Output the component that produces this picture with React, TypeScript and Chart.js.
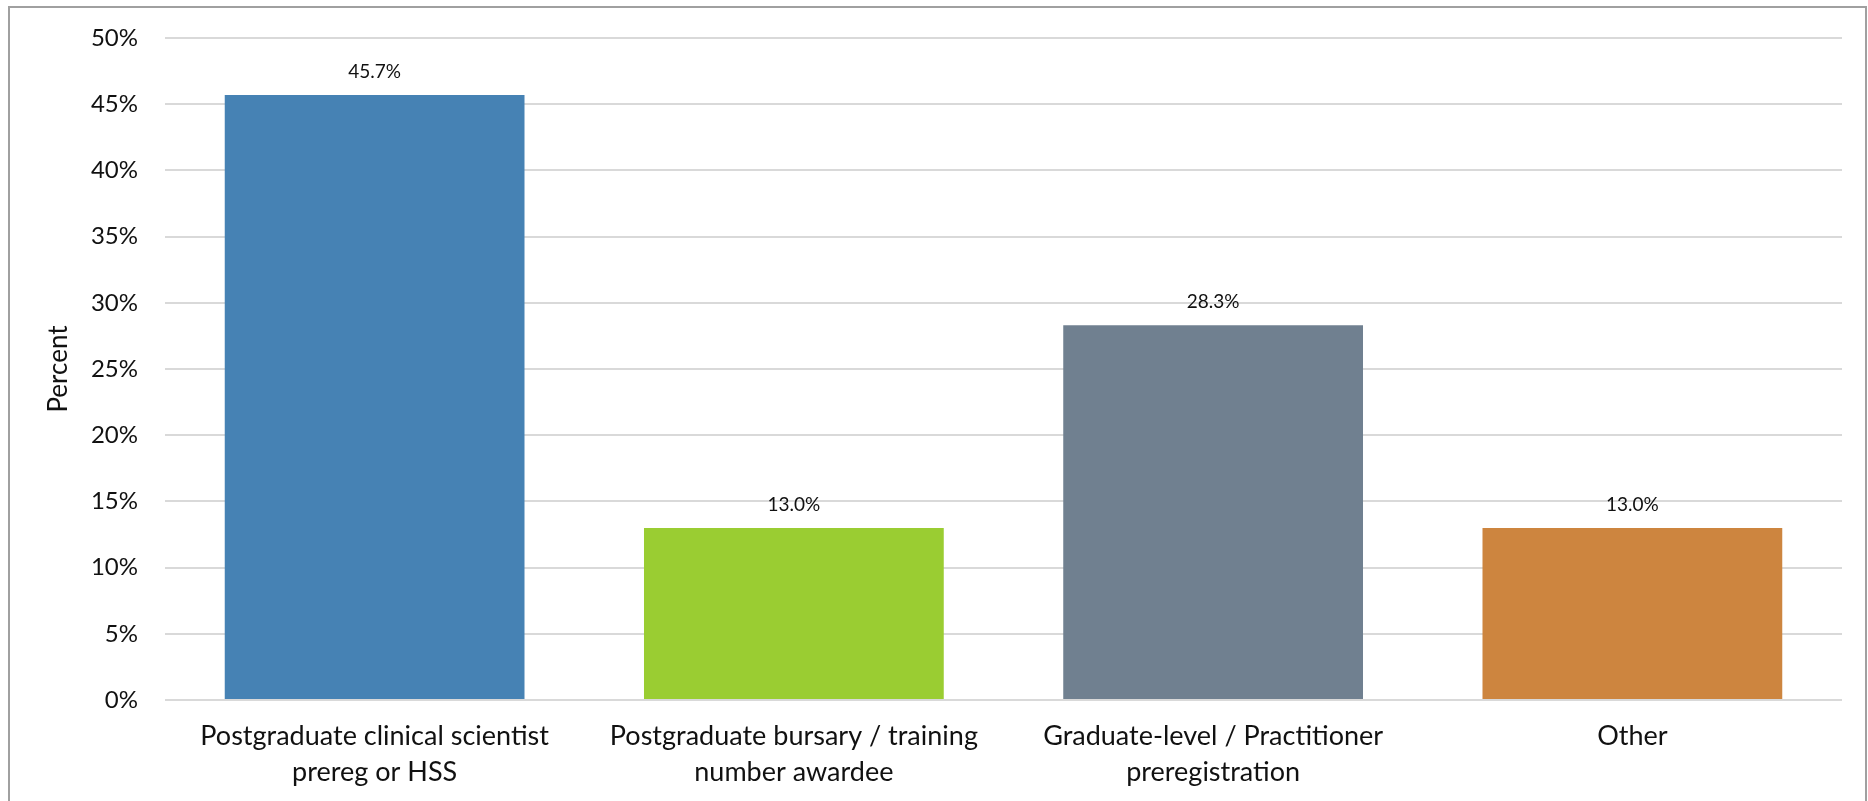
import React, { useEffect, useRef } from "react";
import { Chart, registerables } from "chart.js";

Chart.register(...registerables);

const categories: string[][] = [
  ["Postgraduate clinical scientist", "prereg or HSS"],
  ["Postgraduate bursary / training", "number awardee"],
  ["Graduate-level / Practitioner", "preregistration"],
  ["Other"],
];
const values: number[] = [45.7, 13.0, 28.3, 13.0];
const barColors: string[] = ["#4682B4", "#9ACD32", "#708090", "#CD853F"];
const yTicks: number[] = [0, 5, 10, 15, 20, 25, 30, 35, 40, 45, 50];
const yTitle = "Percent";

const FONT = "Lato, 'Open Sans', sans-serif";

const valueLabels = {
  id: "valueLabels",
  afterDatasetsDraw(chart: any) {
    const ctx = chart.ctx;
    const meta = chart.getDatasetMeta(0);
    ctx.save();
    ctx.font = `19px ${FONT}`;
    ctx.fillStyle = "#111";
    ctx.textAlign = "center";
    ctx.textBaseline = "middle";
    meta.data.forEach((bar: any, i: number) => {
      const v = chart.data.datasets[0].data[i];
      ctx.fillText(v.toFixed(1) + "%", bar.x, bar.y - 23);
    });
    ctx.restore();
  },
};

export default function App() {
  const ref = useRef<HTMLCanvasElement>(null);
  useEffect(() => {
    if (!ref.current) return;
    const chart = new Chart(ref.current, {
      type: "bar",
      data: {
        labels: categories,
        datasets: [
          {
            data: values,
            backgroundColor: barColors,
            barPercentage: 0.715,
            categoryPercentage: 1,
          },
        ],
      },
      options: {
        animation: false,
        responsive: false,
        maintainAspectRatio: false,
        layout: { padding: { left: 30, right: 23, top: 30, bottom: 0 } },
        plugins: { legend: { display: false }, tooltip: { enabled: false } },
        scales: {
          x: {
            grid: { display: false, drawTicks: false },
            border: { display: false },
            ticks: {
              color: "#111",
              font: { family: FONT, size: 27, lineHeight: 1.33 },
              padding: 18,
              maxRotation: 0,
              autoSkip: false,
            },
            afterFit: (axis: any) => {
              axis.height = 101;
              axis.paddingLeft = 0;
              axis.paddingRight = 0;
            },
          },
          y: {
            min: 0,
            max: 50,
            afterBuildTicks: (axis: any) => {
              axis.ticks = yTicks.map((v) => ({ value: v }));
            },
            grid: { color: "#d9d9d9", lineWidth: 2, drawTicks: false },
            border: { display: false },
            ticks: {
              color: "#111",
              font: { family: FONT, size: 24 },
              padding: 27,
              callback: (v: any) => v + "%",
            },
            title: {
              display: true,
              text: yTitle,
              color: "#111",
              font: { family: FONT, size: 26 },
              padding: { top: 3, bottom: 0 },
            },
            afterFit: (axis: any) => {
              axis.width = 125;
              axis.paddingTop = 0;
              axis.paddingBottom = 0;
            },
          },
        },
      },
      plugins: [valueLabels],
    });
    return () => chart.destroy();
  }, []);
  return (
    <div
      style={{
        position: "absolute",
        left: 8,
        top: 6,
        width: 1859,
        height: 795,
        boxSizing: "border-box",
        borderTop: "2px solid #a0a0a0",
        borderLeft: "2px solid #a0a0a0",
        borderRight: "2px solid #a0a0a0",
        background: "#fff",
      }}
    >
      <canvas ref={ref} width={1855} height={793} style={{ display: "block" }} />
    </div>
  );
}
